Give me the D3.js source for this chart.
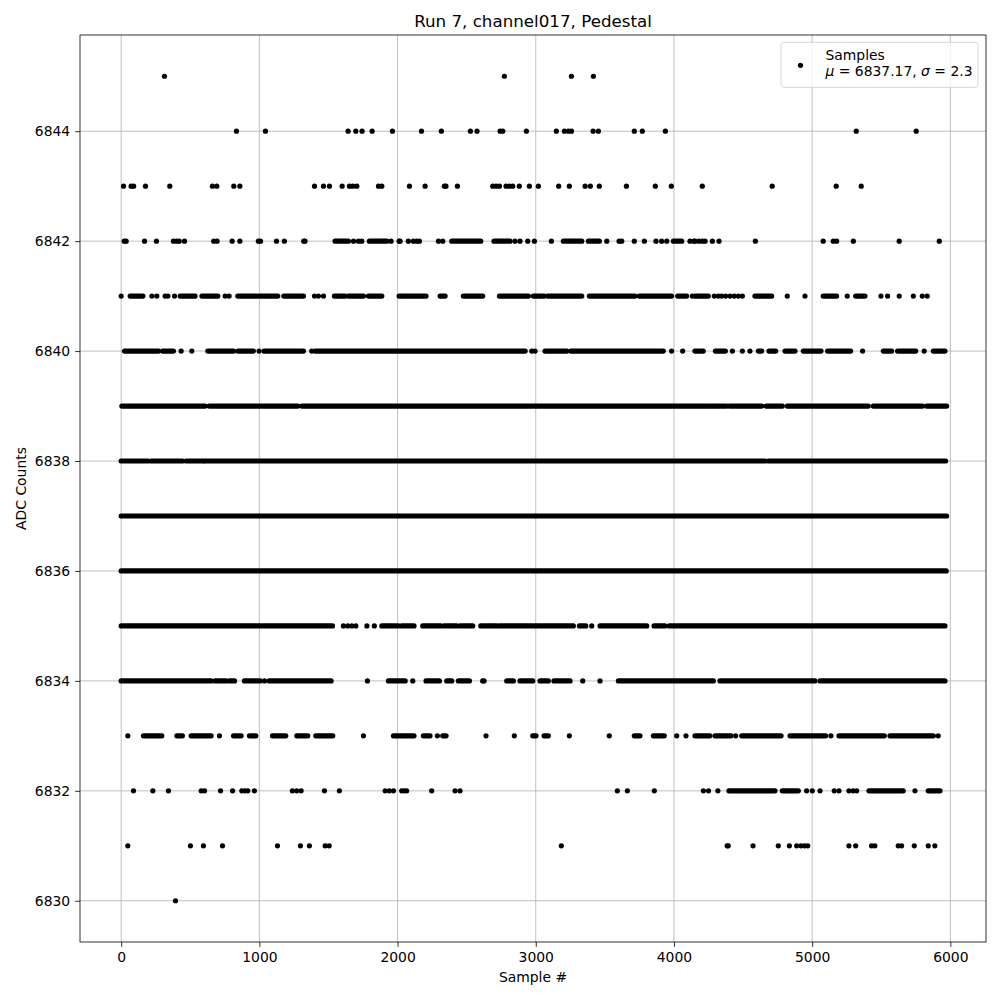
<!DOCTYPE html>
<html><head><meta charset="utf-8">
<script src="https://cdn.jsdelivr.net/npm/d3@7"></script>
<style>body{margin:0;background:#fff} svg{font-family:"DejaVu Sans",sans-serif}</style>
</head><body><svg id="c" width="1000" height="1000"></svg>
<script>
// Sample indices per ADC level; a number is one sample, a pair [a,b] is a run of densely packed samples
const row6845 = [313, 2773, 3258, 3417];
const row6844 = [834, 1044, 1642, 1698, 1743, 1816, 1963, 2173, 2317, 2527, 2575, 2742, 2761, 2932, 3149, 3207, 3236, 3258, 3415, 3453, 3713, 3771, 3938, 5319, 5753];
const row6843 = [17, 72, 90, 176, 352, 660, 692, 815, 859, 1399, 1464, 1507, 1599, 1652, 1676, 1705, 1862, 1886, 2086, 2199, 2339, 2350, 2433, 2689, 2713, 2737, 2785, 2809, 2833, 2881, 2954, 3019, 3166, 3243, 3357, 3395, 3460, 3656, 3865, 3981, 4205, 4711, 5174, 5355];
const row6842 = [22, 36, 169, 255, 378, 402, 420, 458, 670, 694, 803, 859, 993, 1008, 1124, 1181, 1321, 1330, [1548, 1644], 1681, 1717, 1741, [1796, 1922], 1953, 2011, 2018, 2078, 2114, 2139, 2158, 2296, 2327, [2392, 2602], [2698, 2814], 2850, 2886, 2942, 2990, 3113, [3200, 3333], [3381, 3460], 3514, 3603, 3622, 3713, 3786, 3870, 3911, 3948, [3996, 4056], 4116, 4145, 4152, 4180, 4205, 4225, 4278, 4326, 4589, 5080, 5153, 5177, 5298, 5630, 5920];
const row6841 = [0, [65, 157], 222, 258, 318, 338, 386, [427, 535], [584, 699], 752, 781, [844, 981], [998, 1133], [1177, 1319], 1399, 1427, 1464, [1543, 1620], [1644, 1753], [1789, 1886], [2011, 2066], [2078, 2206], [2308, 2344], [2476, 2616], [2737, 2947], [2983, 3062], [3087, 3333], [3388, 3718], [3749, 3983], [4027, 4092], 4133, [4152, 4249], 4292, 4321, 4345, 4374, 4406, 4437, 4466, 4495, [4586, 4707], 4820, 4948, [5080, 5177], 5254, [5315, 5382], 5498, 5546, 5630, 5732, 5797, 5833];
const row6840 = [[24, 270], [299, 378], 434, 511, [627, 813], [844, 957], 998, [1034, 1319], 1379, [1403, 2923], 2971, 2995, [3067, 3224], [3253, 3923], 3983, 4063, [4152, 4212], [4300, 4372], 4423, 4495, 4550, [4611, 4635], [4688, 4736], [4804, 4876], [4936, 5064], [5112, 5278], 5365, [5515, 5575], [5618, 5749], 5811, [5877, 5961]];
const row6839 = [[5, 608], [637, 1174], [1186, 1278], [1307, 1512], [1524, 4260], [4273, 4382], [4401, 4635], [4667, 4784], [4820, 5406], [5442, 5799], [5828, 5973]];
const row6838 = [[0, 193], [217, 443], [470, 595], [608, 4659], [4683, 5966]];
const row6837 = [[0, 5973]];
const row6836 = [[0, 5970]];
const row6835 = [[0, 1529], 1608, 1640, 1669, 1698, 1778, 1832, [1886, 2006], [2030, 2119], [2182, 2313], [2337, 2428], [2452, 2544], [2602, 2718], [2737, 3272], [3316, 3362], 3405, [3465, 3803], [3856, 3935], [3966, 5961]];
const row6834 = [[0, 651], [680, 757], [781, 820], [892, 1006], 1037, [1071, 1519], 1782, [1934, 2055], 2110, [2206, 2303], [2356, 2392], [2440, 2520], 2616, 2626, [2790, 2838], [2886, 2978], [3031, 3091], [3132, 3248], 3340, 3465, [3598, 4285], [4333, 5020], [5057, 5961]];
const row6833 = [48, [161, 294], [403, 443], [506, 651], 711, [813, 868], [928, 974], [1095, 1191], [1271, 1350], [1408, 1531], 1753, [1970, 2119], [2187, 2235], 2288, [2327, 2351], 2640, 2845, [2978, 3002], [3060, 3091], 3243, 3532, [3713, 3754], [3851, 3930], 4020, 4087, [4152, 4260], [4297, 4413], 4447, [4490, 4775], [4840, 5098], 5136, [5194, 5522], [5563, 5877], 5912];
const row6832 = [89, 229, 342, 579, 603, 719, 806, 873, 895, 916, 964, 1239, 1270, 1302, 1471, 1579, 1910, 1940, 1970, 2030, 2048, 2066, 2247, 2416, 2452, 3590, 3663, 3858, 4213, 4250, 4318, [4398, 4731], [4784, 4900], 4960, 5001, 5057, 5160, 5194, 5266, 5296, 5322, [5411, 5659], 5744, [5840, 5925]];
const row6831 = [48, 501, 595, 733, 1131, 1297, 1362, 1476, 1505, 3185, 4385, 4393, 4572, 4755, 4835, 4888, 4919, 4945, 4968, 5266, 5315, 5430, 5454, 5623, 5647, 5739, 5840, 5888];
const row6830 = [393];

const levels = [6845, 6844, 6843, 6842, 6841, 6840, 6839, 6838, 6837, 6836, 6835, 6834, 6833, 6832, 6831, 6830];
const rowsData = [row6845, row6844, row6843, row6842, row6841, row6840, row6839, row6838, row6837, row6836, row6835, row6834, row6833, row6832, row6831, row6830];

const xTicks = [0, 1000, 2000, 3000, 4000, 5000, 6000];
const yTicks = [6830, 6832, 6834, 6836, 6838, 6840, 6842, 6844];
const titleText = "Run 7, channel017, Pedestal";
const xLabel = "Sample #";
const yLabel = "ADC Counts";
const legendLabel = "Samples";
const legendMu = "6837.17";
const legendSigma = "2.3";

const svg = d3.select("#c");
const L = 80, R = 986, T = 35, B = 942;
const x = d3.scaleLinear().domain([-298, 6258]).range([L, R]);
const y = d3.scaleLinear().domain([6829.25, 6845.75]).range([B, T]);

svg.append("rect").attr("width", 1000).attr("height", 1000).attr("fill", "#fff");
svg.append("defs").append("clipPath").attr("id", "clip")
  .append("rect").attr("x", L).attr("y", T).attr("width", R - L).attr("height", B - T);

// grid
const grid = svg.append("g").attr("stroke", "#b0b0b0").attr("stroke-width", 0.8);
grid.selectAll(".gx").data(xTicks).join("line")
  .attr("x1", d => x(d)).attr("x2", d => x(d)).attr("y1", T).attr("y2", B);
grid.selectAll(".gy").data(yTicks).join("line")
  .attr("y1", d => y(d)).attr("y2", d => y(d)).attr("x1", L).attr("x2", R);

// points
const plot = svg.append("g").attr("clip-path", "url(#clip)");
const flat = [];
levels.forEach((lvl, i) => rowsData[i].forEach(v => flat.push({lvl, v})));
plot.selectAll("line.run").data(flat.filter(d => Array.isArray(d.v))).join("line")
  .attr("class", "run")
  .attr("x1", d => x(d.v[0])).attr("x2", d => x(d.v[1]))
  .attr("y1", d => y(d.lvl)).attr("y2", d => y(d.lvl))
  .attr("stroke", "#000").attr("stroke-width", 5.2).attr("stroke-linecap", "round");
plot.selectAll("circle.pt").data(flat.filter(d => !Array.isArray(d.v))).join("circle")
  .attr("class", "pt")
  .attr("cx", d => x(d.v)).attr("cy", d => y(d.lvl)).attr("r", 2.6).attr("fill", "#000");

// axes
const xAxis = svg.append("g").attr("transform", `translate(0,${B})`)
  .call(d3.axisBottom(x).tickValues(xTicks).tickFormat(d3.format("d")).tickSize(4.9).tickPadding(4.9));
const yAxis = svg.append("g").attr("transform", `translate(${L},0)`)
  .call(d3.axisLeft(y).tickValues(yTicks).tickFormat(d3.format("d")).tickSize(4.9).tickPadding(4.9));
[xAxis, yAxis].forEach(a => {
  a.select(".domain").remove();
  a.selectAll(".tick line").attr("stroke", "#000").attr("stroke-width", 0.8);
  a.selectAll(".tick text").attr("fill", "#000").style("font-size", "13.9px").style("font-family", "DejaVu Sans");
});

// frame
svg.append("rect").attr("x", L).attr("y", T).attr("width", R - L).attr("height", B - T)
  .attr("fill", "none").attr("stroke", "#000").attr("stroke-width", 0.8);

// title and labels
svg.append("text").attr("x", (L + R) / 2).attr("y", 27).attr("text-anchor", "middle")
  .style("font-size", "16.7px").text(titleText);
svg.append("text").attr("x", (L + R) / 2).attr("y", 982).attr("text-anchor", "middle")
  .style("font-size", "13.9px").text(xLabel);
svg.append("text").attr("transform", `translate(26,${(T + B) / 2}) rotate(-90)`).attr("text-anchor", "middle")
  .style("font-size", "13.9px").text(yLabel);

// legend
const lg = svg.append("g");
lg.append("rect").attr("x", 781).attr("y", 42.3).attr("width", 197).attr("height", 45).attr("rx", 3)
  .attr("fill", "#fff").attr("fill-opacity", 0.8).attr("stroke", "#cccccc").attr("stroke-width", 0.8);
lg.append("circle").attr("cx", 800.5).attr("cy", 65.3).attr("r", 2.6).attr("fill", "#000");
lg.append("text").attr("x", 825.5).attr("y", 59.5).style("font-size", "13.9px").text(legendLabel);
const t2 = lg.append("text").attr("x", 825.5).attr("y", 76).style("font-size", "13.9px");
t2.append("tspan").style("font-style", "italic").text("\u03bc");
t2.append("tspan").text(" = " + legendMu + ", ");
t2.append("tspan").style("font-style", "italic").text("\u03c3");
t2.append("tspan").text(" = " + legendSigma);
</script></body></html>
